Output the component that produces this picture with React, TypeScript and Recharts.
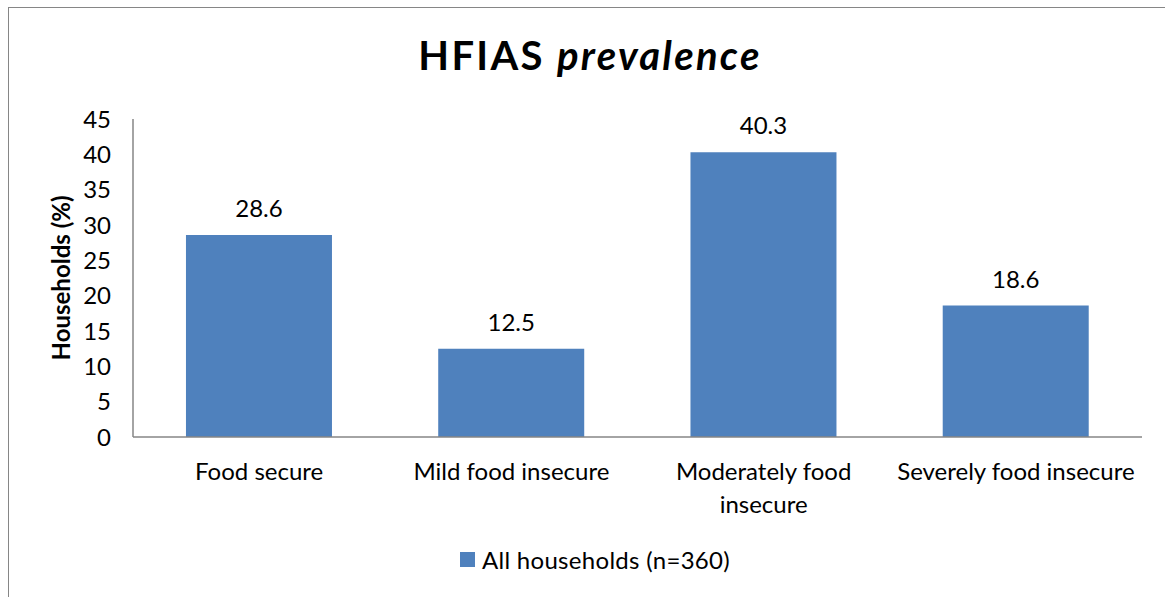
import React from 'react';
import { BarChart, Bar, XAxis, YAxis, Legend, LabelList, Label } from 'recharts';

const categories = ['Food secure', 'Mild food insecure', 'Moderately food insecure', 'Severely food insecure'];
const householdShares = [28.6, 12.5, 40.3, 18.6];
const yTicks = [0, 5, 10, 15, 20, 25, 30, 35, 40, 45];
const seriesName = 'All households (n=360)';

const data = categories.map((name, i) => ({ name, value: householdShares[i] }));

const FONT = 'Lato, "Open Sans", sans-serif';
const BAR_COLOR = '#4F81BD';
const AXIS_COLOR = '#868686';
const MAX_LINE_CHARS = 22;

// greedy word wrap for the category labels
const wrapLabel = (label: string) => {
  const lines: string[] = [];
  let current = '';
  label.split(' ').forEach((word) => {
    const next = current ? `${current} ${word}` : word;
    if (next.length > MAX_LINE_CHARS && current) {
      lines.push(current);
      current = word;
    } else {
      current = next;
    }
  });
  if (current) lines.push(current);
  return lines;
};

const CategoryTick = (props: any) => {
  const { x, y, payload } = props;
  const lines = wrapLabel(String(payload.value));
  return (
    <text x={x} y={y + 43} textAnchor="middle" fontSize={24} fontFamily={FONT} fill="#000">
      {lines.map((line, i) => (
        <tspan key={i} x={x} dy={i === 0 ? 0 : 33}>
          {line}
        </tspan>
      ))}
    </text>
  );
};

const YTitle = (props: any) => {
  const { viewBox } = props;
  const cx = 61;
  const cy = viewBox.y + viewBox.height / 2;
  return (
    <text
      x={cx}
      y={cy}
      transform={`rotate(-90 ${cx} ${cy})`}
      textAnchor="middle"
      fontSize={24}
      fontWeight="bold"
      fontFamily={FONT}
      fill="#000"
    >
      Households (%)
    </text>
  );
};

const LegendContent = () => (
  <div
    style={{
      display: 'flex',
      justifyContent: 'center',
      alignItems: 'center',
      paddingLeft: 16,
      fontFamily: FONT,
      fontSize: 24,
      letterSpacing: 0.3,
      color: '#000',
    }}
  >
    <span style={{ display: 'inline-block', width: 15, height: 15, background: BAR_COLOR, marginRight: 7 }} />
    <span>{seriesName}</span>
  </div>
);

export default function App() {
  return (
    <>
      <style>{'body{margin:0;overflow:hidden;background:#fff}'}</style>
      <div
        style={{
          position: 'absolute',
          left: 8,
          top: 7,
          width: 1200,
          height: 640,
          borderLeft: `1px solid ${AXIS_COLOR}`,
          borderTop: `1px solid ${AXIS_COLOR}`,
          background: '#fff',
        }}
      >
        <svg width={1156} height={80} style={{ position: 'absolute', left: 0, top: 0 }}>
          <text
            x={581}
            y={62}
            textAnchor="middle"
            fontFamily={FONT}
            fontSize={40}
            fontWeight="bold"
            letterSpacing={2.3}
            fill="#000"
          >
            HFIAS <tspan fontStyle="italic">prevalence</tspan>
          </text>
        </svg>
        <BarChart
          width={1156}
          height={589}
          data={data}
          margin={{ top: 111, right: 23, left: 0, bottom: 31 }}
          barCategoryGap="21%"
        >
          <XAxis
            dataKey="name"
            axisLine={{ stroke: AXIS_COLOR, strokeWidth: 1.5 }}
            tickLine={false}
            tickSize={0}
            tickMargin={0}
            interval={0}
            height={100}
            tick={<CategoryTick />}
          />
          <YAxis
            domain={[0, 45]}
            ticks={yTicks}
            width={124}
            axisLine={{ stroke: AXIS_COLOR, strokeWidth: 1.5 }}
            tickLine={false}
            tickSize={0}
            tickMargin={22}
            tick={{ fontSize: 24, fontFamily: FONT, fill: '#000' }}
          >
            <Label content={<YTitle />} />
          </YAxis>
          <Legend verticalAlign="bottom" content={<LegendContent />} wrapperStyle={{ left: 0, width: 1156, bottom: 23 }} />
          <Bar dataKey="value" name={seriesName} fill={BAR_COLOR} isAnimationActive={false}>
            <LabelList dataKey="value" position="top" offset={18} fontSize={24} fontFamily={FONT} fill="#000" />
          </Bar>
        </BarChart>
      </div>
    </>
  );
}
